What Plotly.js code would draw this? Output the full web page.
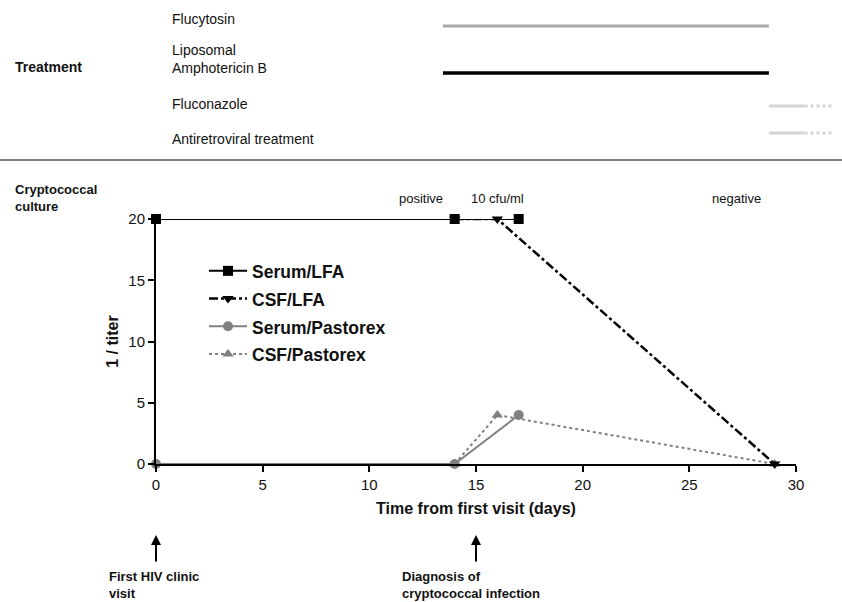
<!DOCTYPE html>
<html>
<head>
<meta charset="utf-8">
<script src="https://cdn.plot.ly/plotly-3.0.1.min.js"></script>
<style>html,body{margin:0;padding:0;background:#fff;}#chart{width:842px;height:602px;}</style>
</head>
<body>
<div id="chart"></div>
<script>
// ---- Data ----
const serumLfaDays = [0, 14, 17];
const serumLfaTiter = [20, 20, 20];
const csfLfaDays = [14, 16, 29];
const csfLfaTiter = [20, 20, 0];
const serumPastorexDays = [0, 14, 17];
const serumPastorexTiter = [0, 0, 4];
const csfPastorexDays = [14, 16, 29];
const csfPastorexTiter = [0, 4, 0];

const drugs = ['Flucytosin', 'Liposomal<br>Amphotericin B', 'Fluconazole', 'Antiretroviral treatment'];
const drugStart = [13.45, 13.45, 28.73, 28.73];
const drugEnd = [28.73, 28.73, 30.4, 30.4];
const drugOngoingEnd = [null, null, 31.7, 31.7];

const cultureLabels = ['positive', '10 cfu/ml', 'negative'];
const cultureDays = [12.4, 16.0, 27.2];

const eventDays = [0, 15];
const eventLabels = ['First HIV clinic<br>visit', 'Diagnosis of<br>cryptococcal infection'];

const xTicks = [0, 5, 10, 15, 20, 25, 30];
const yTicks = [0, 5, 10, 15, 20];

// ---- Layout geometry (styling, not data) ----
const W = 842, H = 602, L = 156, B = 138;
const plotW = W - L, plotH = H - B;
const xEndPx = 796, yTopPx = 219;
const xDomEnd = (xEndPx - L) / plotW;
const x2RangeEnd = 30 / xDomEnd;
const rowPx = [26, 73, 106, 133];
const drugColors = ['#aaaaaa', '#000000', '#d4d4d4', '#d4d4d4'];
const drugWidths = [3, 3.5, 3, 3];
const drugLabelPx = [19, 58.5, 104, 139];
const py = p => 1 - p / plotH;
const px = p => (p - L) / plotW;

const traces = [];
// Treatment bars
for (let i = 0; i < drugs.length; i++) {
  traces.push({
    x: [drugStart[i], drugEnd[i]], y: [rowPx[i], rowPx[i]],
    xaxis: 'x2', yaxis: 'y2', mode: 'lines', showlegend: false, hoverinfo: 'skip',
    line: {color: drugColors[i], width: drugWidths[i]}
  });
  if (drugOngoingEnd[i] !== null) {
    traces.push({
      x: [drugEnd[i], drugOngoingEnd[i]], y: [rowPx[i], rowPx[i]],
      xaxis: 'x2', yaxis: 'y2', mode: 'lines', showlegend: false, hoverinfo: 'skip',
      line: {color: drugColors[i], width: drugWidths[i], dash: 'dot'}
    });
  }
}

const gray = '#808080';
const lg = s => '<span style="font-size:17.5px">' + s + '</span>';
traces.push({
  name: lg('CSF/Pastorex'), x: csfPastorexDays, y: csfPastorexTiter, mode: 'lines+markers',
  line: {color: gray, width: 2, dash: 'dot'},
  marker: {symbol: 'triangle-up', size: 10, color: gray}, legendrank: 4, cliponaxis: false
});
traces.push({
  name: lg('Serum/Pastorex'), x: serumPastorexDays, y: serumPastorexTiter, mode: 'lines+markers',
  line: {color: gray, width: 2},
  marker: {symbol: 'circle', size: 10, color: gray}, legendrank: 3, cliponaxis: false
});
traces.push({
  name: lg('CSF/LFA'), x: csfLfaDays, y: csfLfaTiter, mode: 'lines+markers',
  line: {color: '#000', width: 2.5, dash: 'dashdot'},
  marker: {symbol: 'triangle-down', size: 10, color: '#000'}, legendrank: 2, cliponaxis: false
});
traces.push({
  name: lg('Serum/LFA'), x: serumLfaDays, y: serumLfaTiter, mode: 'lines+markers',
  line: {color: '#000', width: 2},
  marker: {symbol: 'square', size: 10, color: '#000'}, legendrank: 1, cliponaxis: false
});

const annotations = [];
const narrow = 'Liberation Sans Narrow, Arial Narrow, Liberation Sans, Arial, sans-serif';
const arial = 'Liberation Sans, Arial, sans-serif';
for (let i = 0; i < drugs.length; i++) {
  annotations.push({xref: 'paper', yref: 'paper', x: px(170), y: py(drugLabelPx[i]),
    xanchor: 'left', yanchor: 'middle', align: 'left', showarrow: false, text: drugs[i],
    font: {family: narrow, size: 14, color: '#111'}});
}
annotations.push({xref: 'paper', yref: 'paper', x: px(13), y: py(67), xanchor: 'left', yanchor: 'middle',
  showarrow: false, text: '<b>Treatment</b>', font: {family: narrow, size: 14, color: '#111'}});
annotations.push({xref: 'paper', yref: 'paper', x: px(13), y: py(197.5), xanchor: 'left', yanchor: 'middle',
  align: 'left', showarrow: false, text: '<b>Cryptococcal<br>culture</b>', font: {family: arial, size: 13, color: '#111'}});
for (let i = 0; i < cultureLabels.length; i++) {
  annotations.push({xref: 'x', yref: 'paper', x: cultureDays[i], y: py(198), xanchor: 'center', yanchor: 'middle',
    showarrow: false, text: cultureLabels[i], font: {family: arial, size: 13, color: '#111'}});
}
const eventTextPx = [107, 400];
for (let i = 0; i < eventDays.length; i++) {
  annotations.push({xref: 'x', yref: 'paper', x: eventDays[i], y: py(535), ax: 0, ay: 28,
    showarrow: true, arrowhead: 2, arrowsize: 1, arrowwidth: 2, arrowcolor: '#000', text: ''});
  annotations.push({xref: 'paper', yref: 'paper', x: px(eventTextPx[i]), y: py(567), xanchor: 'left', yanchor: 'top',
    align: 'left', showarrow: false, text: '<b>' + eventLabels[i] + '</b>', font: {family: arial, size: 13, color: '#111'}});
}

const layout = {
  width: W, height: H,
  margin: {l: L, r: 0, t: 0, b: B, pad: 0},
  paper_bgcolor: '#fff', plot_bgcolor: 'rgba(0,0,0,0)',
  font: {family: arial, color: '#111'},
  showlegend: true,
  legend: {x: px(204), y: py(252), xanchor: 'left', yanchor: 'top', bgcolor: 'rgba(0,0,0,0)', itemwidth: 38,
    font: {family: arial, size: 19, color: '#111', weight: 'bold'}},
  xaxis: {domain: [0, xDomEnd], range: [0, 30], tickvals: xTicks, ticks: 'outside', ticklen: 6, tickwidth: 2,
    tickcolor: '#000', showline: true, linecolor: '#000', linewidth: 2, showgrid: false, zeroline: false,
    tickfont: {size: 15, color: '#111'}, anchor: 'y',
    title: {text: '<b>Time from first visit (days)</b>', font: {size: 16, color: '#111'}, standoff: 11}},
  yaxis: {domain: [0, py(yTopPx)], range: [0, 20], tickvals: yTicks, ticks: 'outside', ticklen: 6, tickwidth: 2,
    tickcolor: '#000', showline: true, linecolor: '#000', linewidth: 2, showgrid: false, zeroline: false,
    tickfont: {size: 15, color: '#111'}, anchor: 'x',
    title: {text: '<b>1 / titer</b>', font: {size: 16, color: '#111'}, standoff: 6}},
  xaxis2: {domain: [0, 1], range: [0, x2RangeEnd], visible: false, anchor: 'y2'},
  yaxis2: {domain: [py(160), 1], range: [160, 0], visible: false, anchor: 'x2'},
  shapes: [{type: 'line', xref: 'paper', yref: 'paper', x0: px(0), x1: px(W), y0: py(160), y1: py(160),
    line: {color: '#555', width: 1.5}}],
  annotations: annotations
};

Plotly.newPlot('chart', traces, layout, {displayModeBar: false, staticPlot: true});
</script>
</body>
</html>
